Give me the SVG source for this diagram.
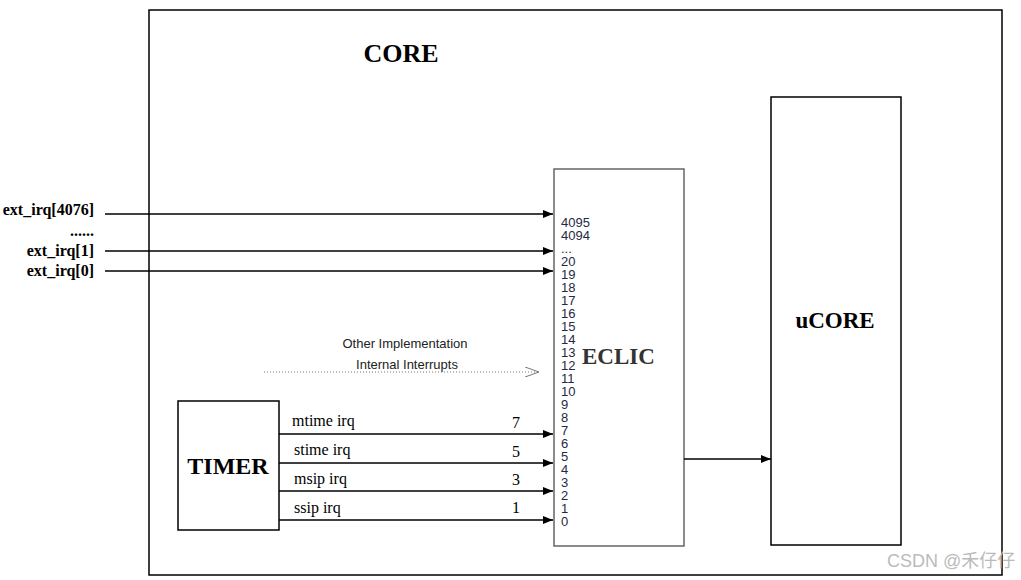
<svg xmlns="http://www.w3.org/2000/svg" width="1021" height="580" viewBox="0 0 1021 580">
<style>
.box{fill:#fff;stroke:#000;stroke-width:1.5}
.eclic{fill:#fff;stroke:#666;stroke-width:1.5}
.title{font-family:"Liberation Serif",serif;font-weight:bold}
.ext{font-family:"Liberation Serif",serif;font-weight:bold;font-size:16px;text-anchor:end}
.num{font-family:"Liberation Sans",sans-serif;font-size:13px;fill:#1f2a44}
.irq{font-family:"Liberation Serif",serif;font-size:16px}
.note{font-family:"Liberation Sans",sans-serif;font-size:13px;fill:#222;text-anchor:middle}
.line{stroke:#000;stroke-width:1.3;fill:none;marker-end:url(#ah)}
</style>
<defs>
<marker id="ah" markerWidth="10" markerHeight="8" refX="10" refY="4" orient="auto" markerUnits="userSpaceOnUse">
<path d="M0,0 L10,4 L0,8 Z" fill="#000"/>
</marker>
<marker id="oh" markerWidth="14" markerHeight="10" refX="14" refY="5" orient="auto" markerUnits="userSpaceOnUse">
<path d="M0,0 L14,5 L0,10" fill="none" stroke="#777" stroke-width="1"/>
</marker>
</defs>
<rect width="1021" height="580" fill="#fff"/>
<g id="core">
<rect class="box" x="149" y="10" width="853" height="565"/>
<text class="title" x="401" y="62" font-size="26" text-anchor="middle">CORE</text>
</g>
<g id="ucore">
<rect class="box" x="771" y="97" width="130" height="448"/>
<text class="title" x="835" y="328" font-size="23" text-anchor="middle">uCORE</text>
</g>
<g id="eclic">
<rect class="eclic" x="554" y="169" width="130" height="377"/>
<text class="title" x="582" y="364" font-size="23" fill="#333">ECLIC</text>
<g class="num">
<text x="561" y="227">4095</text>
<text x="561" y="240">4094</text>
<text x="561" y="253">...</text>
<text x="561" y="266">20</text>
<text x="561" y="279">19</text>
<text x="561" y="292">18</text>
<text x="561" y="305">17</text>
<text x="561" y="318">16</text>
<text x="561" y="331">15</text>
<text x="561" y="344">14</text>
<text x="561" y="357">13</text>
<text x="561" y="370">12</text>
<text x="561" y="383">11</text>
<text x="561" y="396">10</text>
<text x="561" y="409">9</text>
<text x="561" y="422">8</text>
<text x="561" y="435">7</text>
<text x="561" y="448">6</text>
<text x="561" y="461">5</text>
<text x="561" y="474">4</text>
<text x="561" y="487">3</text>
<text x="561" y="500">2</text>
<text x="561" y="513">1</text>
<text x="561" y="526">0</text>
</g>
</g>
<g id="timer">
<rect class="box" x="178" y="401" width="101" height="129"/>
<text class="title" x="228" y="474" font-size="24" text-anchor="middle">TIMER</text>
</g>
<g id="labels">
<text class="ext" x="94" y="215">ext_irq[4076]</text>
<text class="ext" x="94" y="236">......</text>
<text class="ext" x="94" y="256">ext_irq[1]</text>
<text class="ext" x="94" y="276">ext_irq[0]</text>
<text class="irq" x="292" y="426">mtime irq</text>
<text class="irq" x="294" y="455">stime irq</text>
<text class="irq" x="294" y="484">msip irq</text>
<text class="irq" x="294" y="513">ssip irq</text>
<text class="irq" x="516" y="428" text-anchor="middle">7</text>
<text class="irq" x="516" y="457" text-anchor="middle">5</text>
<text class="irq" x="516" y="485" text-anchor="middle">3</text>
<text class="irq" x="516" y="513" text-anchor="middle">1</text>
<text class="note" x="405" y="348">Other Implementation</text>
<text class="note" x="407" y="369">Internal Interrupts</text>
</g>
<g id="connectors">
<line class="line" x1="105" y1="214" x2="553" y2="214"/>
<line class="line" x1="105" y1="251" x2="553" y2="251"/>
<line class="line" x1="105" y1="271" x2="553" y2="271"/>
<line class="line" x1="279" y1="434" x2="553" y2="434"/>
<line class="line" x1="279" y1="463" x2="553" y2="463"/>
<line class="line" x1="279" y1="491" x2="553" y2="491"/>
<line class="line" x1="279" y1="520" x2="553" y2="520"/>
<line class="line" x1="684" y1="459" x2="771" y2="459"/>
<line x1="264" y1="372" x2="539" y2="372" stroke="#777" stroke-width="1" stroke-dasharray="1,2" marker-end="url(#oh)"/>
</g>
<text x="887" y="567" font-family="'Liberation Sans','Noto Sans CJK SC',sans-serif" font-size="18" fill="#bbb">CSDN @禾仔仔</text>
</svg>
